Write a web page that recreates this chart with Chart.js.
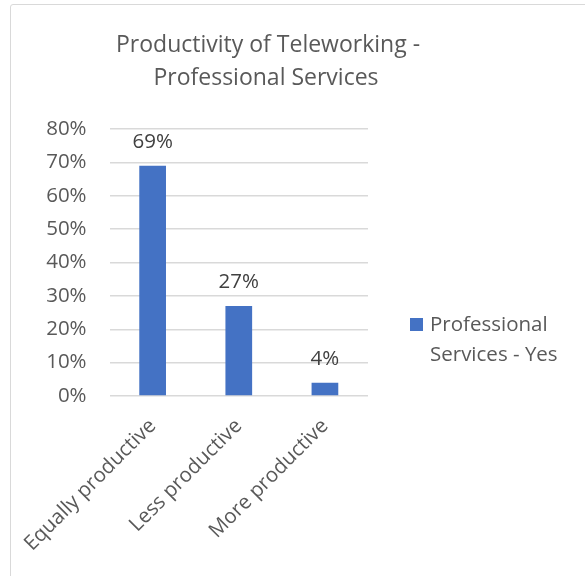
<!DOCTYPE html>
<html>
<head>
<meta charset="utf-8">
<script src="https://cdn.jsdelivr.net/npm/chart.js@4/dist/chart.umd.min.js"></script>
<style>
  html, body { margin: 0; padding: 0; background: #ffffff; overflow: hidden; }
  #frame {
    position: absolute; left: 10px; top: 4px; width: 620px; height: 620px;
    border: 1px solid #d9d9d9; border-radius: 3px; box-sizing: border-box;
  }
  #wrap { position: absolute; left: 0; top: 0; width: 585px; height: 576px; }
  #chart-title {
    position: absolute; left: 116px; width: 300px; top: 27px;
    text-align: center; font-family: "Open Sans", sans-serif;
    font-size: 23px; line-height: 33px; color: #595959; white-space: nowrap;
  }
  #chart-legend {
    position: absolute; left: 410px; top: 308px;
    font-family: "Open Sans", sans-serif; font-size: 20.5px; line-height: 30px; color: #595959;
  }
  #chart-legend .swatch {
    position: absolute; left: 0; top: 10px; width: 13px; height: 13px;
  }
  #chart-legend .text { margin-left: 20px; width: 140px; }
</style>
</head>
<body>
<div id="frame"></div>
<div id="wrap"><canvas id="chart"></canvas></div>
<div id="chart-title">Productivity of Teleworking -<br>Professional Services</div>
<div id="chart-legend"></div>

<script>
// Survey answers: share of respondents per productivity outcome
const categories = ['Equally productive', 'Less productive', 'More productive'];
const seriesName = 'Professional Services - Yes';
const seriesValues = [69, 27, 4];
const tickValues = [0, 10, 20, 30, 40, 50, 60, 70, 80];

const barColor = '#4472C4';
const textColor = '#595959';
const gridColor = '#d9d9d9';
const labelFont = { family: '"Open Sans", sans-serif', size: 20.5 };

// Value labels above each bar
const barValueLabels = {
    id: 'barValueLabels',
    afterDatasetsDraw(chart) {
        const ctx = chart.ctx;
        ctx.save();
        ctx.font = `${labelFont.size}px ${labelFont.family}`;
        ctx.fillStyle = '#404040';
        ctx.textAlign = 'center';
        ctx.textBaseline = 'alphabetic';
        chart.getDatasetMeta(0).data.forEach((bar, i) => {
            ctx.fillText(seriesValues[i] + '%', bar.x, bar.y - 18);
        });
        ctx.restore();
    }
};

new Chart(document.getElementById('chart'), {
    type: 'bar',
    data: {
        labels: categories,
        datasets: [{
            label: seriesName,
            data: seriesValues,
            backgroundColor: barColor,
            borderWidth: 0,
            categoryPercentage: 1,
            barPercentage: 0.31
        }]
    },
    options: {
        responsive: true,
        maintainAspectRatio: false,
        animation: false,
        layout: { padding: { top: 129, right: 217, bottom: 0, left: 0 } },
        plugins: {
            legend: { display: false },
            title: { display: false },
            tooltip: { enabled: false }
        },
        scales: {
            x: {
                grid: { display: false },
                border: { display: false },
                ticks: {
                    color: textColor,
                    font: labelFont,
                    minRotation: 45,
                    maxRotation: 45,
                    padding: 10
                },
                afterFit(scale) { scale.height = 180; }
            },
            y: {
                min: tickValues[0],
                max: tickValues[tickValues.length - 1],
                afterBuildTicks(scale) {
                    scale.ticks = tickValues.map(v => ({ value: v }));
                },
                grid: { color: gridColor, lineWidth: 1.5, drawTicks: false },
                border: { display: false },
                ticks: {
                    color: textColor,
                    font: labelFont,
                    padding: 23,
                    callback: v => v + '%'
                },
                afterFit(scale) { scale.width = 108; }
            }
        }
    },
    plugins: [barValueLabels]
});

// Legend built from the dataset
document.getElementById('chart-legend').innerHTML = `
    <span class="swatch" style="background:${barColor}"></span>
    <div class="text">${seriesName}</div>
`;
</script>
</body>
</html>
